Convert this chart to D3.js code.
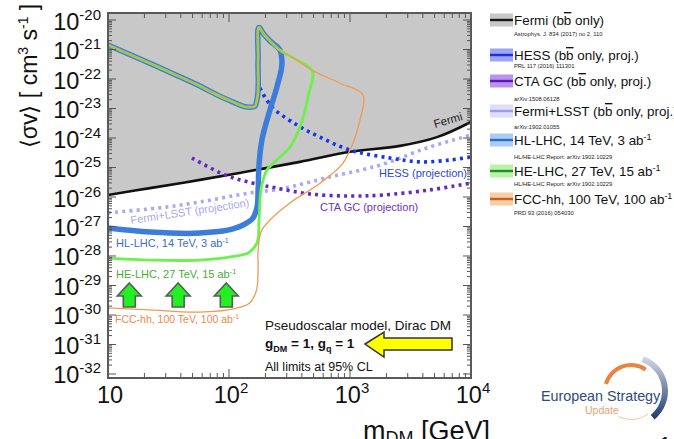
<!DOCTYPE html>
<html lang="en">
<head>
<meta charset="UTF-8">
<title>Pseudoscalar mediator: DM annihilation limits</title>
<script src="https://d3js.org/d3.v7.min.js"></script>
<style>
    body { margin: 0; background: #fff; }
    svg { display: block; font-family: "Liberation Sans", Arial, Helvetica, sans-serif; }
</style>
</head>
<body>
<div id="chart"></div>
<script>
// ---- values: [m_DM in GeV, <sigma v> in cm^3 s^-1] ----
const fermi = [[10, 1.17e-26], [22.2, 2.0e-26], [57.5, 3.8e-26], [149, 7.6e-26], [386, 1.55e-25],
    [1000, 3.4e-25], [2590, 5.4e-25], [5240, 1.07e-24], [10000, 3.5e-24]];
const hess = [[180, 4.9e-23], [227, 1.12e-23], [365, 2.75e-24], [565, 1.07e-24], [1000, 3.9e-25],
    [2140, 2.1e-25], [3790, 1.55e-25], [6700, 1.8e-25], [10000, 2.3e-25]];
const ctaGC = [[49.4, 2.1e-25], [92.7, 5.6e-26], [158, 2.95e-26], [249, 2.0e-26], [467, 1.26e-26],
    [1000, 1.08e-26], [1870, 1.17e-26], [4580, 1.74e-26], [10000, 2.95e-26]];
const fermiLSST = [[10, 2.9e-27], [30.8, 4.6e-27], [57.5, 6.8e-27], [149, 1.38e-26], [264, 1.86e-26],
    [684, 4.8e-26], [1770, 1.2e-25], [4320, 4.6e-25], [10000, 1.26e-24]];

// upper edge shared by the three collider curves
const colliderTop = [[10, 1.42e-21], [18.4, 4.8e-22], [30.8, 1.87e-22], [57.5, 5.8e-23], [79.6, 2.9e-23],
    [108, 1.66e-23], [141, 1.12e-23], [164, 1.2e-23], [170, 1.95e-23], [174, 4.4e-22],
    [180, 5.4e-21], [191, 3.6e-21], [218, 1.95e-21], [264, 9.5e-22]];
const hlBranch = [[274, 3.8e-22], [249, 5.4e-23], [218, 8.9e-24], [187, 8.5e-25], [177, 1.2e-25],
    [174, 1.74e-26], [170, 4.3e-27], [158, 1.95e-27], [131, 1.12e-27], [108, 8.3e-28],
    [57.5, 6.0e-28], [22.2, 6.5e-28], [10, 8.9e-28]];
const heTop = [[351, 4.8e-22], [485, 2.0e-22]];
const heBranch = [[450, 2.5e-23], [386, 2.3e-24], [319, 4.9e-25], [249, 1.8e-25], [206, 8.3e-26],
    [187, 2.6e-26], [177, 1.66e-27], [170, 2.75e-28], [149, 1.38e-28], [102, 9.3e-29],
    [57.5, 7.3e-29], [22.2, 7.3e-29], [10, 8.5e-29]];
const fccTop = [[826, 7.2e-23], [1280, 2.9e-23]];
const fccBranch = [[1210, 4.1e-24], [1060, 6.8e-25], [875, 1.4e-25], [565, 2.95e-26], [319, 6.3e-27],
    [218, 1.66e-27], [187, 7.6e-28], [174, 1.6e-28], [174, 3.4e-29], [167, 6.0e-30],
    [149, 2.6e-30], [108, 1.6e-30], [57.5, 1.26e-30], [22.2, 1.48e-30], [10, 1.74e-30]];

// arrow markers (mass positions) and axis ticks
const arrowMasses = [15, 38, 95];
const xTickMasses = [10, 100, 1000, 10000];
const xTickLabels = [["10", ""], ["10", "2"], ["10", "3"], ["10", "4"]];
const yTickExps = [-20, -21, -22, -23, -24, -25, -26, -27, -28, -29, -30, -31, -32];

const legendNames = [["Fermi (b", "b", " only)"], ["HESS (b", "b", " only, proj.)"],
    ["CTA GC (b", "b", " only, proj.)"], ["Fermi+LSST (b", "b", " only, proj.)"],
    ["HL-LHC, 14 TeV, 3 ab", "-1"], ["HE-LHC, 27 TeV, 15 ab", "-1"], ["FCC-hh, 100 TeV, 100 ab", "-1"]];
const legendRefs = ["Astrophys. J. 834 (2017) no 2, 110", "PRL 117 (2016) 111301", "arXiv:1508.06128",
    "arXiv:1902.01055", "HL/HE-LHC Report: arXiv:1902.10229", "HL/HE-LHC Report: arXiv:1902.10229",
    "PRD 93 (2016) 054030"];
const legendPatch = ["#c8c8c8", "#9ea6f4", "#bb92ee", "#dedefa", "#aacdf5", "#b6f4a6", "#f6cea6"];
const legendLine = ["#1a1a1a", "#1a30d8", "#5a1cb8", "#9c9cee", "#2a6ccc", "#2a8a2a", "#c86020"];

// ---- setup ----
const W = 674, H = 439;
const plot = { left: 108, right: 471, top: 13, bottom: 378 };

const svg = d3.select("#chart").append("svg")
    .attr("width", W).attr("height", H);

const x = d3.scaleLog().domain([10, 1e4]).range([plot.left, plot.right]);
const y = d3.scaleLog().domain([7.31e-33, 1.73e-20]).range([plot.bottom, plot.top]);

svg.append("clipPath").attr("id", "clip")
    .append("rect")
    .attr("x", plot.left).attr("y", plot.top)
    .attr("width", plot.right - plot.left).attr("height", plot.bottom - plot.top);

const g = svg.append("g").attr("clip-path", "url(#clip)");

const smooth = d3.curveCatmullRom.alpha(0.5);
const line = d3.line().x(d => x(d[0])).y(d => y(d[1])).curve(smooth);

// excluded region above the Fermi limit
g.append("path")
    .datum(fermi)
    .attr("d", d3.area().x(d => x(d[0])).y0(plot.top).y1(d => y(d[1])).curve(smooth))
    .attr("fill", "#c8c8c8");

g.append("path").datum(fermi).attr("d", line)
    .attr("fill", "none").attr("stroke", "#111").attr("stroke-width", 2.6);

// projections (dotted)
const dotted = [
    { data: fermiLSST, color: "#a9a9f2" },
    { data: ctaGC, color: "#6428c0" },
    { data: hess, color: "#1634e8" }
];
dotted.forEach(s => {
    g.append("path").datum(s.data).attr("d", line)
        .attr("fill", "none").attr("stroke", s.color)
        .attr("stroke-width", 3.6).attr("stroke-dasharray", "3 4.2");
});

// collider curves
const hlCurve = colliderTop.concat(hlBranch);
const heCurve = colliderTop.concat(heTop, heBranch);
const fccCurve = colliderTop.concat(heTop, fccTop, fccBranch);

const linLine = d3.line().x(d => x(d[0])).y(d => y(d[1])).curve(d3.curveCatmullRom.alpha(0.9));
[
    { data: hlCurve, color: "#3b7dd8", w: 5.5 },
    { data: heCurve, color: "#6cf04c", w: 2.8 },
    { data: fccCurve, color: "#f29a50", w: 1.3 }
].forEach(s => {
    g.append("path").datum(s.data).attr("d", linLine)
        .attr("fill", "none").attr("stroke", s.color)
        .attr("stroke-width", s.w).attr("stroke-linejoin", "round");
});

// ---- frame and ticks ----
const decades = yTickExps.map(e => Math.pow(10, e));
const yMinor = [];
decades.forEach(d => { for (let k = 2; k <= 9; k++) yMinor.push(d * k); });
const yMinorIn = yMinor.filter(v => y(v) > plot.top && y(v) < plot.bottom);
const xMinor = [];
xTickMasses.forEach(d => { for (let k = 2; k <= 9; k++) if (d * k < 1e4) xMinor.push(d * k); });

const tickCol = "#555";
const ticks = svg.append("g").attr("stroke", tickCol).attr("stroke-width", 1);
decades.forEach(v => {
    ticks.append("line").attr("x1", plot.left).attr("x2", plot.left + 8).attr("y1", y(v)).attr("y2", y(v));
    ticks.append("line").attr("x1", plot.right).attr("x2", plot.right - 8).attr("y1", y(v)).attr("y2", y(v));
});
yMinorIn.forEach(v => {
    ticks.append("line").attr("x1", plot.left).attr("x2", plot.left + 4).attr("y1", y(v)).attr("y2", y(v));
    ticks.append("line").attr("x1", plot.right).attr("x2", plot.right - 4).attr("y1", y(v)).attr("y2", y(v));
});
xTickMasses.forEach(v => {
    ticks.append("line").attr("x1", x(v)).attr("x2", x(v)).attr("y1", plot.bottom).attr("y2", plot.bottom - 9);
    ticks.append("line").attr("x1", x(v)).attr("x2", x(v)).attr("y1", plot.top).attr("y2", plot.top + 9);
});
xMinor.forEach(v => {
    ticks.append("line").attr("x1", x(v)).attr("x2", x(v)).attr("y1", plot.bottom).attr("y2", plot.bottom - 5);
    ticks.append("line").attr("x1", x(v)).attr("x2", x(v)).attr("y1", plot.top).attr("y2", plot.top + 5);
});

svg.append("rect")
    .attr("x", plot.left).attr("y", plot.top)
    .attr("width", plot.right - plot.left).attr("height", plot.bottom - plot.top)
    .attr("fill", "none").attr("stroke", "#5a5a5a").attr("stroke-width", 2);

// tick labels
yTickExps.forEach((e, i) => {
    const t = svg.append("text")
        .attr("x", 101).attr("y", y(decades[i]) + 9.5)
        .attr("text-anchor", "end").attr("font-size", 23.5).attr("fill", "#111");
    t.append("tspan").text("10");
    t.append("tspan").attr("dy", -10).attr("font-size", 15).text(String(e));
});
xTickMasses.forEach((v, i) => {
    const t = svg.append("text")
        .attr("x", x(v) + 2).attr("y", 403)
        .attr("text-anchor", "middle").attr("font-size", 23.5).attr("fill", "#111");
    t.append("tspan").text(xTickLabels[i][0]);
    if (xTickLabels[i][1]) t.append("tspan").attr("dy", -10).attr("font-size", 15).text(xTickLabels[i][1]);
});

// axis titles
const yt = svg.append("text")
    .attr("transform", "translate(37,76) rotate(-90)")
    .attr("text-anchor", "middle").attr("font-size", 23).attr("fill", "#111");
yt.append("tspan").text("\u27e8\u03c3v\u27e9 [ cm");
yt.append("tspan").attr("dy", -9).attr("font-size", 14).text("3");
yt.append("tspan").attr("dy", 9).text(" s");
yt.append("tspan").attr("dy", -9).attr("font-size", 14).text("-1");
yt.append("tspan").attr("dy", 9).text(" ]");

const xt = svg.append("text").attr("x", 363).attr("y", 440).attr("font-size", 27).attr("fill", "#111");
xt.append("tspan").text("m");
xt.append("tspan").attr("dy", 4).attr("font-size", 18).text("DM");
xt.append("tspan").attr("dy", -4).text(" [GeV]");

// ---- in-plot labels ----
function label(txt, px, py, color, size, rot, sup) {
    const t = svg.append("text")
        .attr("transform", `translate(${px},${py}) rotate(${rot || 0})`)
        .attr("font-size", size).attr("fill", color);
    t.append("tspan").text(txt);
    if (sup) t.append("tspan").attr("dy", -4).attr("font-size", size * 0.65).text(sup);
}
label("Fermi", 435, 128, "#222", 11.5, -16);
label("HESS (projection)", 379, 177, "#2a48d8", 11);
label("CTA GC (projection)", 320, 211, "#7030c8", 11);
label("Fermi+LSST (projection)", 131, 224, "#a9a9ee", 11, -8.5);
label("HL-LHC, 14 TeV, 3 ab", 116, 247, "#3a6cc8", 11, 0, "-1");
label("HE-LHC, 27 TeV, 15 ab", 116, 278, "#4ca838", 11, 0, "-1");
label("FCC-hh, 100 TeV, 100 ab", 115, 323, "#ee8844", 10.5, 0, "-1");

// green "up" arrows
arrowMasses.forEach(m => {
    const cx = x(m), top = 283, base = 307;
    const pts = [[cx, top], [cx + 12, top + 13], [cx + 6, top + 13], [cx + 6, base],
        [cx - 6, base], [cx - 6, top + 13], [cx - 12, top + 13]];
    svg.append("polygon").attr("points", pts.map(p => p.join(",")).join(" "))
        .attr("fill", "#22f022").attr("stroke", "#5a5a5a").attr("stroke-width", 1.6)
        .attr("stroke-linejoin", "miter");
});

// model text
svg.append("text").attr("x", 265).attr("y", 330).attr("font-size", 13.5).attr("fill", "#111")
    .text("Pseudoscalar model, Dirac DM");
const gq = svg.append("text").attr("x", 265).attr("y", 348).attr("font-size", 13.5)
    .attr("font-weight", "bold").attr("fill", "#111");
gq.append("tspan").text("g");
gq.append("tspan").attr("dy", 4).attr("font-size", 9).text("DM");
gq.append("tspan").attr("dy", -4).text(" = 1, g");
gq.append("tspan").attr("dy", 4).attr("font-size", 9).text("q");
gq.append("tspan").attr("dy", -4).text(" = 1");
svg.append("text").attr("x", 265).attr("y", 371).attr("font-size", 12.5).attr("fill", "#111")
    .text("All limits at 95% CL");

// yellow arrow
const ya = [[365, 344], [384, 332], [384, 338], [452, 338], [452, 350], [384, 350], [384, 357]];
svg.append("polygon").attr("points", ya.map(p => p.join(",")).join(" "))
    .attr("fill", "#ffff00").attr("stroke", "#333").attr("stroke-width", 1.5);

// ---- legend ----
const rowY = [20, 55, 81, 111, 140, 171, 199];
const refY = [36, 68, 101, 129, 159, 186, 215];
legendNames.forEach((nm, i) => {
    const lg = svg.append("g");
    lg.append("rect").attr("x", 490).attr("y", rowY[i] - 6.5).attr("width", 23).attr("height", 13)
        .attr("fill", legendPatch[i]);
    lg.append("line").attr("x1", 490).attr("x2", 513).attr("y1", rowY[i]).attr("y2", rowY[i])
        .attr("stroke", legendLine[i]).attr("stroke-width", 2.4);
    const t = lg.append("text").attr("x", 514).attr("y", rowY[i] + 5)
        .attr("font-size", 13.4).attr("fill", "#111");
    if (nm.length === 3) {
        t.append("tspan").text(nm[0]);
        t.append("tspan").attr("text-decoration", "overline").text(nm[1]);
        t.append("tspan").text(nm[2]);
    } else {
        t.append("tspan").text(nm[0]);
        t.append("tspan").attr("dy", -5).attr("font-size", 9).text(nm[1]);
    }
    lg.append("text").attr("x", 514).attr("y", refY[i])
        .attr("font-size", 5.8).attr("fill", "#222").text(legendRefs[i]);
});

// ---- logo ----
const logo = svg.append("g").attr("transform", "translate(631,391)");
const grad = svg.append("defs").append("linearGradient").attr("id", "navy")
    .attr("x1", 0).attr("y1", 0).attr("x2", 0).attr("y2", 1);
grad.append("stop").attr("offset", "0%").attr("stop-color", "#d4dae6");
grad.append("stop").attr("offset", "100%").attr("stop-color", "#1f3a6e");
logo.append("path")
    .attr("d", d3.arc().innerRadius(31).outerRadius(37).startAngle(0.35).endAngle(2.45)())
    .attr("fill", "url(#navy)");
logo.append("path")
    .attr("d", d3.arc().innerRadius(24).outerRadius(28).startAngle(-1.3).endAngle(0.6)())
    .attr("fill", "#e9843e");
logo.append("path")
    .attr("d", d3.arc().innerRadius(28).outerRadius(29).startAngle(2.5).endAngle(3.6)())
    .attr("fill", "#f3c7a6");
svg.append("text").attr("x", 541).attr("y", 401).attr("font-size", 14.3).attr("fill", "#2e4a7d")
    .text("European Strategy");
svg.append("text").attr("x", 585).attr("y", 414).attr("font-size", 10.5).attr("fill", "#f0a070")
    .text("Update");

// page number (cut off at the edge)
svg.append("text").attr("x", 659).attr("y", 452).attr("font-size", 22).attr("fill", "#111").text("1");
</script>
</body>
</html>
